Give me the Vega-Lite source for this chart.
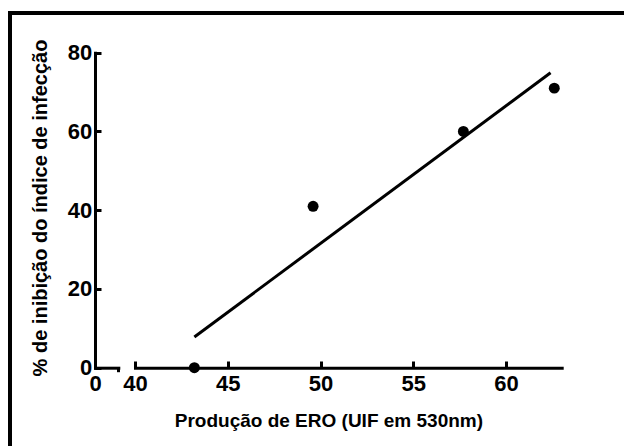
{
  "$schema": "https://vega.github.io/schema/vega-lite/v6.json",
  "width": 630,
  "height": 445,
  "autosize": "none",
  "padding": {"left": 10, "top": 13, "right": -16, "bottom": -12},
  "background": "white",
  "config": {
    "view": {"stroke": "black", "strokeWidth": 4, "fill": "white"},
    "axis": {
      "grid": false,
      "domainColor": "black",
      "domainWidth": 3,
      "domainCap": "square",
      "tickColor": "black",
      "tickWidth": 3,
      "labelFlush": false,
      "labelOverlap": false,
      "labelFont": "Liberation Sans",
      "labelFontWeight": "bold",
      "labelFontSize": 22,
      "labelColor": "black",
      "titleFont": "Liberation Sans",
      "titleFontWeight": "bold",
      "titleFontSize": 19,
      "titleColor": "black"
    }
  },
  "layer": [
    {
      "data": {"values": [{}]},
      "mark": {"type": "point", "opacity": 0},
      "encoding": {
        "x": {
          "datum": 0,
          "type": "quantitative",
          "scale": {"domain": [0, 1.25], "range": [85, 108.3], "nice": false, "zero": false},
          "axis": {
            "orient": "bottom",
            "offset": -90.3,
            "values": [0, 1.25],
            "labelExpr": "datum.value == 0 ? '0' : ''",
            "tickSize": 4,
            "tickOpacity": {"condition": {"test": "datum.value == 0", "value": 0}, "value": 1},
            "labelPadding": 1.6,
            "title": null
          }
        }
      }
    },
    {
      "layer": [
        {
          "data": {"values": [
            {"ero": 43.2, "inib": 7.8},
            {"ero": 62.4, "inib": 74.9}
          ]},
          "mark": {"type": "line", "color": "black", "strokeWidth": 3},
          "encoding": {
            "x": {"field": "ero", "type": "quantitative"},
            "y": {"field": "inib", "type": "quantitative"}
          }
        },
        {
          "data": {"values": [
            {"ero": 43.2, "inib": 0},
            {"ero": 49.6, "inib": 41},
            {"ero": 57.7, "inib": 60},
            {"ero": 62.6, "inib": 71}
          ]},
          "mark": {"type": "circle", "color": "black", "size": 120, "opacity": 1},
          "encoding": {
            "x": {"field": "ero", "type": "quantitative"},
            "y": {"field": "inib", "type": "quantitative"}
          }
        }
      ],
      "encoding": {
        "x": {
          "field": "ero",
          "type": "quantitative",
          "scale": {"domain": [40, 63], "range": [125, 551.7], "nice": false, "zero": false},
          "axis": {
            "orient": "bottom",
            "offset": -90.3,
            "values": [40, 45, 50, 55, 60],
            "tickSize": -6.7,
            "labelPadding": 12.3,
            "title": "Produção de ERO (UIF em 530nm)",
            "titleX": 318.4,
            "titleY": 59,
            "titleAlign": "center",
            "titleBaseline": "alphabetic"
          }
        },
        "y": {
          "field": "inib",
          "type": "quantitative",
          "scale": {"domain": [0, 80], "range": [354.7, 39.7], "nice": false, "zero": false},
          "axis": {
            "orient": "left",
            "offset": -85,
            "values": [0, 20, 40, 60, 80],
            "tickSize": -6,
            "labelPadding": 9.3,
            "title": "% de inibição do índice de infecção",
            "titleFontSize": 20,
            "titleX": -48.5,
            "titleY": 194.5,
            "titleAngle": -90,
            "titleAlign": "center",
            "titleBaseline": "alphabetic"
          }
        }
      }
    }
  ],
  "resolve": {"scale": {"x": "independent"}, "axis": {"x": "independent"}}
}
